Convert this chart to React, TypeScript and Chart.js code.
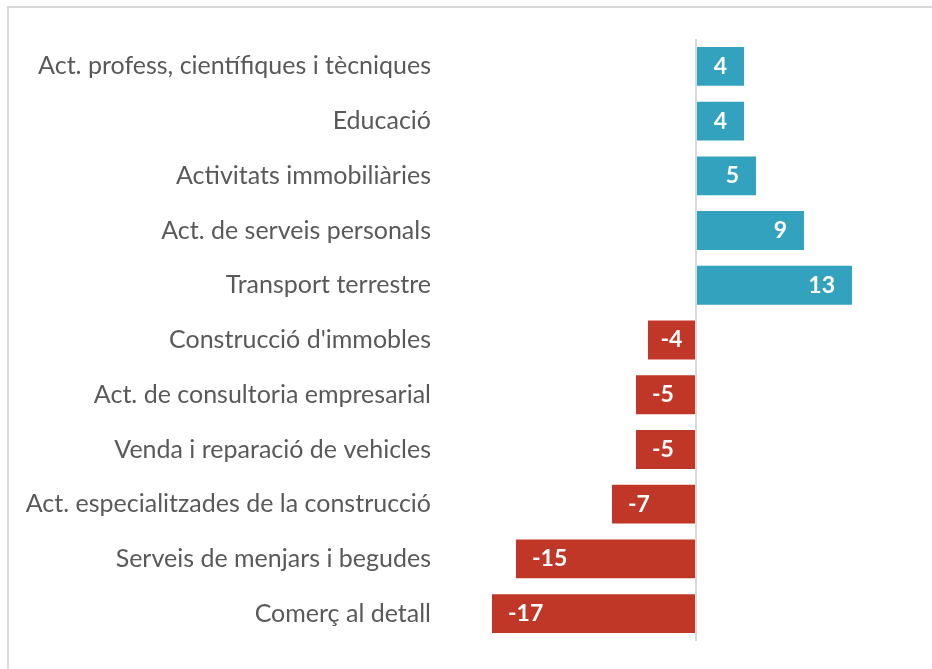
import React, { useEffect, useRef } from "react";
import { Chart, registerables } from "chart.js";

Chart.register(...registerables);

const categories = [
  "Act. profess, científiques i tècniques",
  "Educació",
  "Activitats immobiliàries",
  "Act. de serveis personals",
  "Transport terrestre",
  "Construcció d'immobles",
  "Act. de consultoria empresarial",
  "Venda i reparació de vehicles",
  "Act. especialitzades de la construcció",
  "Serveis de menjars i begudes",
  "Comerç al detall",
];

const values = [4, 4, 5, 9, 13, -4, -5, -5, -7, -15, -17];

const POS_COLOR = "#33A2BE";
const NEG_COLOR = "#C13727";

const labelPlugin = {
  id: "barLabels",
  afterDatasetsDraw(chart: any) {
    const ctx = chart.ctx;
    const meta = chart.getDatasetMeta(0);
    ctx.save();
    ctx.font = "bold 23px Lato, 'Noto Sans', sans-serif";
    ctx.fillStyle = "#ffffff";
    ctx.textBaseline = "middle";
    meta.data.forEach((bar: any, i: number) => {
      const v = values[i];
      const text = String(v);
      const w = ctx.measureText(text).width;
      const end = bar.x;
      const base = bar.base;
      let left: number;
      if (v >= 0) {
        left = end - 17 - w;
        if (left < base + 16) left = (base + end) / 2 - w / 2;
      } else {
        left = end + 16;
        if (left + w > base - 16) left = (base + end) / 2 - w / 2;
      }
      ctx.textAlign = "left";
      ctx.fillText(text, left, bar.y);
    });
    ctx.restore();
  },
};

export default function App() {
  const ref = useRef<HTMLCanvasElement | null>(null);
  useEffect(() => {
    if (!ref.current) return;
    const chart = new Chart(ref.current, {
      type: "bar",
      data: {
        labels: categories,
        datasets: [
          {
            data: values,
            backgroundColor: values.map((v) => (v >= 0 ? POS_COLOR : NEG_COLOR)),
            categoryPercentage: 1,
            barPercentage: 0.71,
            borderWidth: 0,
          },
        ],
      },
      options: {
        indexAxis: "y",
        animation: false,
        responsive: false,
        maintainAspectRatio: false,
        layout: { padding: { top: 39, bottom: 26, left: 0, right: 20 } },
        plugins: {
          legend: { display: false },
          tooltip: { enabled: false },
        },
        scales: {
          x: {
            min: -21,
            max: 18,
            ticks: { display: false, stepSize: 1 },
            border: { display: false },
            grid: {
              drawTicks: false,
              color: (c: any) => (c.tick && c.tick.value === 0 ? "#d9d9d9" : "rgba(0,0,0,0)"),
              lineWidth: (c: any) => (c.tick && c.tick.value === 0 ? 2 : 0),
            },
            afterFit: (s: any) => {
              s.height = 0;
            },
          },
          y: {
            ticks: {
              color: "#595959",
              font: { family: "Lato, 'Noto Sans', sans-serif", size: 25 },
              padding: 13,
              autoSkip: false,
            },
            border: { display: false },
            grid: { display: false, drawTicks: false },
            afterFit: (s: any) => {
              s.width = 444;
            },
          },
        },
      },
      plugins: [labelPlugin],
    });
    return () => chart.destroy();
  }, []);

  return (
    <div style={{ position: "fixed", left: 0, top: 0, width: 932, height: 669, background: "#fff", overflow: "hidden" }}>
      <div
        style={{
          position: "absolute",
          left: 7,
          top: 6,
          width: 960,
          height: 700,
          border: "2px solid #d9d9d9",
          boxSizing: "border-box",
        }}
      />
      <canvas ref={ref} width={932} height={669} style={{ position: "absolute", left: 0, top: 0 }} />
    </div>
  );
}
